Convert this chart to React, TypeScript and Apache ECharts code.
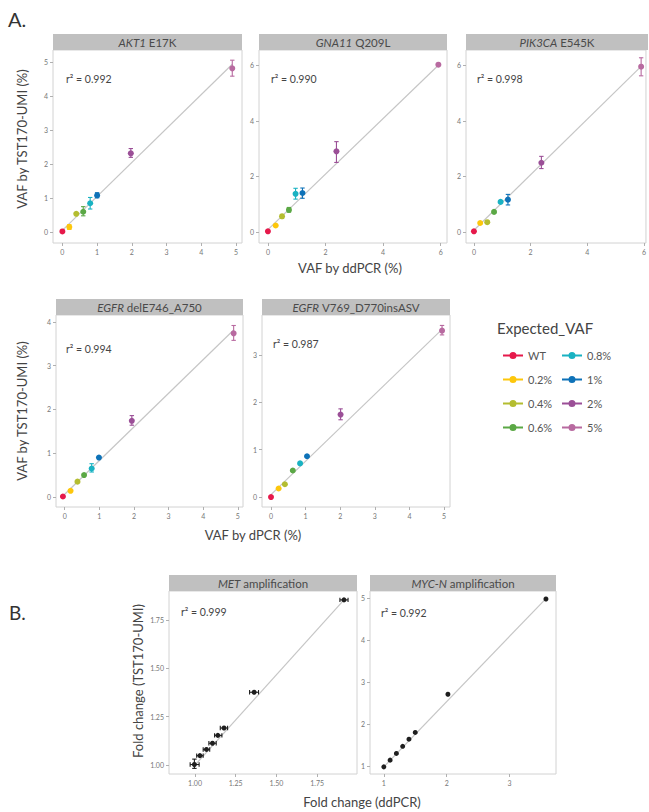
import React, { useEffect, useRef } from 'react';
import * as echarts from 'echarts';

const FONT = 'Lato';

// Expected VAF levels (legend) and their colours
const levels = ['WT', '0.2%', '0.4%', '0.6%', '0.8%', '1%', '2%', '5%'];
const levelColors = ['#e6194b', '#fdc70c', '#b4bd30', '#5ba845', '#19b2c2', '#0e72b8', '#9b4f97', '#b86aa0'];

// A1: AKT1 E17K
const akt1X = [0, 0.2, 0.4, 0.6, 0.8, 1.0, 1.97, 4.89];
const akt1Y = [0.02, 0.15, 0.54, 0.6, 0.85, 1.08, 2.32, 4.82];
const akt1YLo = [null, 0.08, null, 0.48, 0.68, 1.01, 2.2, 4.59];
const akt1YHi = [null, 0.22, null, 0.75, 1.02, 1.16, 2.46, 5.06];
const akt1Fit = [0.05, 1.0];
const akt1R2 = '0.992';

// A2: GNA11 Q209L
const gna11X = [0, 0.27, 0.49, 0.73, 0.96, 1.2, 2.38, 5.92];
const gna11Y = [0.02, 0.23, 0.56, 0.79, 1.37, 1.4, 2.9, 6.02];
const gna11YLo = [null, null, 0.49, 0.71, 1.18, 1.21, 2.5, null];
const gna11YHi = [null, null, 0.63, 0.88, 1.57, 1.58, 3.25, null];
const gna11Fit = [0.08, 1.0];
const gna11R2 = '0.990';

// A3: PIK3CA E545K
const pik3caX = [0, 0.22, 0.47, 0.71, 0.94, 1.2, 2.38, 5.9];
const pik3caY = [0.02, 0.32, 0.35, 0.72, 1.08, 1.16, 2.49, 5.95];
const pik3caYLo = [null, null, null, null, null, 0.97, 2.28, 5.62];
const pik3caYHi = [null, null, null, null, null, 1.35, 2.72, 6.27];
const pik3caFit = [0.06, 1.0];
const pik3caR2 = '0.998';

// A4: EGFR delE746_A750
const egfrDelX = [-0.05, 0.17, 0.37, 0.56, 0.78, 0.99, 1.94, 4.88];
const egfrDelY = [0.01, 0.14, 0.35, 0.5, 0.65, 0.9, 1.74, 3.74];
const egfrDelYLo = [null, null, null, null, 0.57, null, 1.64, 3.58];
const egfrDelYHi = [null, null, null, null, 0.76, null, 1.86, 3.92];
const egfrDelFit = [0.06, 0.77];
const egfrDelR2 = '0.994';

// A5: EGFR V769_D770insASV
const egfrInsX = [0, 0.22, 0.4, 0.63, 0.84, 1.04, 2.01, 4.94];
const egfrInsY = [0, 0.18, 0.27, 0.56, 0.71, 0.86, 1.74, 3.51];
const egfrInsYLo = [null, null, null, null, null, null, 1.63, 3.42];
const egfrInsYHi = [null, null, null, null, null, null, 1.86, 3.62];
const egfrInsFit = [0.05, 0.706];
const egfrInsR2 = '0.987';

// B1: MET amplification
const metX = [0.996, 1.03, 1.07, 1.107, 1.14, 1.178, 1.363, 1.915];
const metY = [1.002, 1.048, 1.08, 1.112, 1.153, 1.191, 1.376, 1.854];
const metXLo = [0.97, 1.01, 1.05, 1.085, 1.12, 1.155, 1.335, 1.89];
const metXHi = [1.025, 1.05, 1.09, 1.13, 1.165, 1.2, 1.39, 1.94];
const metYLo = [0.982, null, null, null, null, null, null, null];
const metYHi = [1.03, null, null, null, null, null, null, null];
const metFit = [0.064, 0.935];
const metR2 = '0.999';

// B2: MYC-N amplification
const mycnX = [1.0, 1.1, 1.2, 1.3, 1.4, 1.5, 2.02, 3.58];
const mycnY = [0.98, 1.14, 1.3, 1.47, 1.64, 1.8, 2.71, 4.98];
const mycnFit = [-0.574, 1.554];
const mycnR2 = '0.992';

const ticks0to5 = [0, 1, 2, 3, 4, 5];
const ticksEven = [0, 2, 4, 6];
const ticks0to4 = [0, 1, 2, 3, 4];
const ticks0to3 = [0, 1, 2, 3];
const ticksFold = [1, 1.25, 1.5, 1.75];
const ticks1to3 = [1, 2, 3];
const ticks1to5 = [1, 2, 3, 4, 5];

type Panel = {
  gene: string; mut: string; x: number[]; y: number[];
  yLo?: (number | null)[]; yHi?: (number | null)[];
  xLo?: (number | null)[]; xHi?: (number | null)[];
  fit: number[]; r2: string; colored: boolean;
  grid: { left: number; top: number; width: number; height: number };
  xRange: number[]; yRange: number[]; xTicks: number[]; yTicks: number[];
  dec: number; r2Off: number[];
};

const panels: Panel[] = [
  { gene: 'AKT1', mut: 'E17K', x: akt1X, y: akt1Y, yLo: akt1YLo, yHi: akt1YHi, fit: akt1Fit, r2: akt1R2, colored: true,
    grid: { left: 53, top: 50, width: 189, height: 193 }, xRange: [-0.27, 5.17], yRange: [-0.32, 5.36], xTicks: ticks0to5, yTicks: ticks0to5, dec: 0, r2Off: [13, 29] },
  { gene: 'GNA11', mut: 'Q209L', x: gna11X, y: gna11Y, yLo: gna11YLo, yHi: gna11YHi, fit: gna11Fit, r2: gna11R2, colored: true,
    grid: { left: 259, top: 50, width: 188, height: 193 }, xRange: [-0.31, 6.22], yRange: [-0.4, 6.55], xTicks: ticksEven, yTicks: ticksEven, dec: 0, r2Off: [12, 29] },
  { gene: 'PIK3CA', mut: 'E545K', x: pik3caX, y: pik3caY, yLo: pik3caYLo, yHi: pik3caYHi, fit: pik3caFit, r2: pik3caR2, colored: true,
    grid: { left: 466, top: 50, width: 182, height: 193 }, xRange: [-0.28, 6.07], yRange: [-0.4, 6.55], xTicks: ticksEven, yTicks: ticksEven, dec: 0, r2Off: [11, 29] },
  { gene: 'EGFR', mut: 'delE746_A750', x: egfrDelX, y: egfrDelY, yLo: egfrDelYLo, yHi: egfrDelYHi, fit: egfrDelFit, r2: egfrDelR2, colored: true,
    grid: { left: 56, top: 315, width: 187, height: 192 }, xRange: [-0.25, 5.15], yRange: [-0.23, 4.16], xTicks: ticks0to5, yTicks: ticks0to4, dec: 0, r2Off: [10, 34] },
  { gene: 'EGFR', mut: 'V769_D770insASV', x: egfrInsX, y: egfrInsY, yLo: egfrInsYLo, yHi: egfrInsYHi, fit: egfrInsFit, r2: egfrInsR2, colored: true,
    grid: { left: 262, top: 315, width: 188, height: 192 }, xRange: [-0.26, 5.17], yRange: [-0.21, 3.84], xTicks: ticks0to5, yTicks: ticks0to3, dec: 0, r2Off: [11, 29] },
  { gene: 'MET', mut: 'amplification', x: metX, y: metY, xLo: metXLo, xHi: metXHi, yLo: metYLo, yHi: metYHi, fit: metFit, r2: metR2, colored: false,
    grid: { left: 169, top: 591, width: 188, height: 183 }, xRange: [0.84, 1.995], yRange: [0.953, 1.9], xTicks: ticksFold, yTicks: ticksFold, dec: 2, r2Off: [12, 21] },
  { gene: 'MYC-N', mut: 'amplification', x: mycnX, y: mycnY, fit: mycnFit, r2: mycnR2, colored: false,
    grid: { left: 370, top: 591, width: 186, height: 183 }, xRange: [0.78, 3.74], yRange: [0.81, 5.17], xTicks: ticks1to3, yTicks: ticks1to5, dec: 0, r2Off: [11, 22] },
];

const colorOf = (idx: number) => (idx >= 0 ? levelColors[idx] : '#1e1e1e');

const errRender = (params: any, api: any) => {
  const x = api.value(0), y = api.value(1);
  const xlo = api.value(2), xhi = api.value(3), ylo = api.value(4), yhi = api.value(5);
  const color = colorOf(api.value(6));
  const cap = 2.2;
  const st = { stroke: color, lineWidth: 1.1 };
  const ch: any[] = [];
  if (yhi > ylo) {
    const a = api.coord([x, ylo]), b = api.coord([x, yhi]);
    ch.push({ type: 'line', shape: { x1: a[0], y1: a[1], x2: b[0], y2: b[1] }, style: st });
    ch.push({ type: 'line', shape: { x1: a[0] - cap, y1: a[1], x2: a[0] + cap, y2: a[1] }, style: st });
    ch.push({ type: 'line', shape: { x1: b[0] - cap, y1: b[1], x2: b[0] + cap, y2: b[1] }, style: st });
  }
  if (xhi > xlo) {
    const a = api.coord([xlo, y]), b = api.coord([xhi, y]);
    ch.push({ type: 'line', shape: { x1: a[0], y1: a[1], x2: b[0], y2: b[1] }, style: st });
    ch.push({ type: 'line', shape: { x1: a[0], y1: a[1] - cap, x2: a[0], y2: a[1] + cap }, style: st });
    ch.push({ type: 'line', shape: { x1: b[0], y1: b[1] - cap, x2: b[0], y2: b[1] + cap }, style: st });
  }
  return { type: 'group', children: ch };
};

const legendIcon = 'path://M0,2.4H20V4.6H0Z M13.5,3.5A3.5,3.5 0 1 1 6.5,3.5A3.5,3.5 0 1 1 13.5,3.5Z';

function txt(x: number, y: number, text: string, size: number, extra: any = {}) {
  return {
    type: 'text', x, y, rotation: extra.rotation || 0, silent: true,
    style: {
      text, fontSize: size, fontFamily: FONT, fill: extra.fill || '#444',
      align: extra.align || 'center', verticalAlign: 'middle', rich: extra.rich,
    },
  };
}

function buildOption() {
  const grid: any[] = [], xAxis: any[] = [], yAxis: any[] = [], series: any[] = [], graphic: any[] = [];
  panels.forEach((p, i) => {
    const g = p.grid;
    grid.push({ left: g.left, top: g.top, width: g.width, height: g.height, show: true, borderColor: '#d2d2d2', borderWidth: 1, backgroundColor: '#ffffff' });
    const fmt = (v: number) => (p.dec ? v.toFixed(p.dec) : String(v));
    const common = {
      type: 'value', gridIndex: i, splitLine: { show: false },
      axisLine: { show: false, onZero: false },
    };
    xAxis.push({
      ...common, min: p.xRange[0], max: p.xRange[1],
      axisTick: { show: true, length: 3, lineStyle: { color: '#b0b0b0' }, customValues: p.xTicks },
      axisLabel: { customValues: p.xTicks, formatter: fmt, fontSize: 7, color: '#777', margin: 5, fontFamily: FONT },
    });
    yAxis.push({
      ...common, min: p.yRange[0], max: p.yRange[1],
      axisTick: { show: true, length: 3, lineStyle: { color: '#b0b0b0' }, customValues: p.yTicks },
      axisLabel: { customValues: p.yTicks, formatter: fmt, fontSize: 7, color: '#777', margin: 5, fontFamily: FONT },
    });
    // regression line
    const xmin = Math.min(...p.x), xmax = Math.max(...p.x);
    series.push({
      type: 'line', name: 'fit' + i, xAxisIndex: i, yAxisIndex: i, symbol: 'none', silent: true, z: 1,
      lineStyle: { color: '#c6c6c6', width: 1.2 },
      data: [[xmin, p.fit[0] + p.fit[1] * xmin], [xmax, p.fit[0] + p.fit[1] * xmax]],
    });
    // error bars
    const errItems: any[] = [];
    p.x.forEach((xv, k) => {
      const yl = p.yLo ? p.yLo[k] : null, yh = p.yHi ? p.yHi[k] : null;
      const xl = p.xLo ? p.xLo[k] : null, xh = p.xHi ? p.xHi[k] : null;
      if (yl == null && xl == null) return;
      errItems.push([xv, p.y[k], xl ?? xv, xh ?? xv, yl ?? p.y[k], yh ?? p.y[k], p.colored ? k : -1]);
    });
    series.push({
      type: 'custom', name: 'err' + i, xAxisIndex: i, yAxisIndex: i, z: 2, silent: true,
      renderItem: errRender, encode: { x: 0, y: 1 }, data: errItems,
    });
    // points
    if (p.colored) {
      levels.forEach((lv, k) => {
        series.push({
          type: 'scatter', name: lv, xAxisIndex: i, yAxisIndex: i, z: 3, symbolSize: 6,
          itemStyle: { color: levelColors[k], opacity: 1 }, data: [[p.x[k], p.y[k]]],
        });
      });
    } else {
      series.push({
        type: 'scatter', name: p.gene, xAxisIndex: i, yAxisIndex: i, z: 3, symbolSize: 5,
        itemStyle: { color: '#1e1e1e', opacity: 1 }, data: p.x.map((xv, k) => [xv, p.y[k]]),
      });
    }
    // strip header
    graphic.push({ type: 'rect', silent: true, shape: { x: g.left, y: g.top - 16, width: g.width, height: 16 }, style: { fill: '#c0c0c0' } });
    graphic.push(txt(g.left + g.width / 2, g.top - 8, `{i|${p.gene}} {n|${p.mut}}`, 11.5, {
      fill: '#4a4a4a',
      rich: {
        i: { fontStyle: 'italic', fontSize: 11.5, fontFamily: FONT, fill: '#4a4a4a' },
        n: { fontSize: 11.5, fontFamily: FONT, fill: '#4a4a4a' },
      },
    }));
    // r2 label
    graphic.push(txt(g.left + p.r2Off[0], g.top + p.r2Off[1], `r² = ${p.r2}`, 10.5, { align: 'left', fill: '#444' }));
  });

  graphic.push(txt(8, 19, 'A.', 20, { align: 'left', fill: '#333' }));
  graphic.push(txt(9, 612, 'B.', 19, { align: 'left', fill: '#333' }));
  graphic.push(txt(22, 139, 'VAF by TST170-UMI (%)', 13, { rotation: Math.PI / 2 }));
  graphic.push(txt(350, 268, 'VAF by ddPCR (%)', 13));
  graphic.push(txt(22, 411, 'VAF by TST170-UMI (%)', 13, { rotation: Math.PI / 2 }));
  graphic.push(txt(253, 535, 'VAF by dPCR (%)', 13));
  graphic.push(txt(138, 681, 'Fold change (TST170-UMI)', 13, { rotation: Math.PI / 2 }));
  graphic.push(txt(362, 802, 'Fold change (ddPCR)', 13));
  graphic.push(txt(497, 328, 'Expected_VAF', 15, { align: 'left', fill: '#444' }));

  const legendBase = {
    orient: 'vertical', top: 345, itemWidth: 20, itemHeight: 7, itemGap: 13, icon: legendIcon,
    selectedMode: false, textStyle: { fontSize: 11, color: '#555', fontFamily: FONT },
  };
  const legend = [
    { ...legendBase, left: 498, data: levels.slice(0, 4) },
    { ...legendBase, left: 557, data: levels.slice(4) },
  ];

  return {
    animation: false,
    backgroundColor: '#ffffff',
    textStyle: { fontFamily: FONT },
    grid, xAxis, yAxis, series, graphic, legend,
  };
}

export default function App() {
  const ref = useRef<HTMLDivElement>(null);
  useEffect(() => {
    if (!ref.current) return;
    const chart = echarts.init(ref.current, undefined, { renderer: 'svg' });
    chart.setOption(buildOption() as any);
    return () => chart.dispose();
  }, []);
  return <div ref={ref} style={{ position: 'absolute', left: 0, top: 0, width: 649, height: 812 }} />;
}
